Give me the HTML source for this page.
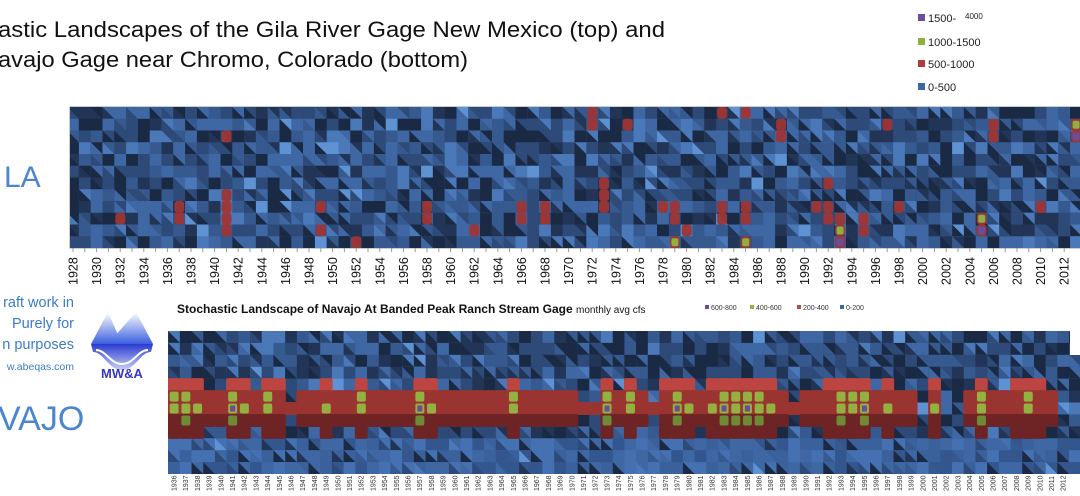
<!DOCTYPE html>
<html><head><meta charset="utf-8"><style>
body{margin:0;background:#fff;width:1080px;height:491px;overflow:hidden;font-family:"Liberation Sans",sans-serif}
</style></head><body>
<svg id="root" width="1080" height="491" viewBox="0 0 1080 491" xmlns="http://www.w3.org/2000/svg">
<defs>
<linearGradient id="mtn" x1="0" y1="0" x2="0" y2="1"><stop offset="0" stop-color="#ffffff"/><stop offset="1" stop-color="#3a5fe0"/></linearGradient>
<linearGradient id="wav" x1="0" y1="0" x2="0" y2="1"><stop offset="0" stop-color="#2a3ad0"/><stop offset="1" stop-color="#c8d0f8"/></linearGradient>
<clipPath id="clipTop"><rect x="70" y="107" width="1010" height="141"/></clipPath>
<clipPath id="clipBot"><rect x="168" y="331" width="912" height="143"/></clipPath>
</defs>
<text x="-2" y="37" font-size="22" textLength="667" lengthAdjust="spacingAndGlyphs" fill="#111">astic Landscapes of the Gila River Gage New Mexico (top) and</text>
<text x="-2" y="67" font-size="22" textLength="470" lengthAdjust="spacingAndGlyphs" fill="#111">avajo Gage near Chromo, Colorado (bottom)</text>

<g font-size="11" fill="#222">
<rect x="918" y="14" width="7" height="7" fill="#6b4e9a"/><text x="928" y="22">1500-</text><text x="965" y="19" font-size="8">4000</text>
<rect x="918" y="38" width="7" height="7" fill="#8fb040"/><text x="928" y="46">1000-1500</text>
<rect x="918" y="60" width="7" height="7" fill="#b33a3a"/><text x="928" y="68">500-1000</text>
<rect x="918" y="83" width="7" height="7" fill="#3d68a8"/><text x="928" y="91">0-500</text>
</g>

<text x="4" y="187" font-size="30" fill="#4a86d0">LA</text>
<g fill="#3a7cc9" text-anchor="end">
<text x="74" y="307" font-size="14.5">raft work in</text>
<text x="74" y="328" font-size="14.5">Purely for</text>
<text x="74" y="349" font-size="14.5">n purposes</text>
<text x="74" y="370" font-size="10.5">w.abeqas.com</text>
</g>
<text x="-2" y="430" font-size="34" fill="#4a86d0">VAJO</text>

<g>
<polygon points="91,344 108,312 122,344" fill="url(#mtn)"/>
<polygon points="108,344 136,312 153,344" fill="url(#mtn)"/>
<path d="M91,344 L153,344 L151,352 C140,352 136,370 122,370 C108,370 104,352 93,352 Z" fill="url(#wav)"/>
<path d="M96,350 C106,350 110,364 122,364 C134,364 138,350 148,350" stroke="#fff" stroke-width="2" fill="none"/>
<text x="122" y="378" font-size="13" font-weight="bold" fill="#3535c8" text-anchor="middle">MW&amp;A</text>
</g>

<rect x="70" y="107" width="1010" height="141" fill="#2d4a75" stroke="#999"/>
<g id="topCells" clip-path="url(#clipTop)"></g>
<g id="topAxis"></g>

<text x="177" y="313" font-size="12" font-weight="bold" fill="#111">Stochastic Landscape of Navajo At Banded Peak Ranch Stream Gage <tspan font-weight="normal" font-size="10">monthly avg cfs</tspan></text>
<g id="botLegend" font-size="7" fill="#333"></g>
<rect x="168" y="331" width="912" height="143" fill="#3d68a8"/>
<g id="botCells" clip-path="url(#clipBot)"></g>
<rect x="1070" y="331" width="10" height="24" fill="#fff"/>
<g id="botAxis"></g>
</svg>
<script>
// ---- Gila (top) data: high-flow events (year, month row 0=top, cfs) ----
const topFirstYear = 1928;
const topLastYear = 2013;
const topEventYear = [1932,1937,1937,1941,1941,1941,1941,1941,1949,1949,1952,1958,1958,1962,1966,1966,1968,1968,1972,1972,1973,1973,1973,1975,1978,1979,1979,1980,1979,1983,1983,1983,1985,1985,1985,1985,1988,1988,1992,1991,1992,1992,1993,1993,1993,1995,1995,1997,1998,2005,2005,2006,2006,2010,2013,2013];
const topEventMonth = [9,8,9,2,7,8,9,10,8,10,11,8,9,10,8,9,8,9,0,1,6,7,8,1,8,8,9,10,11,0,8,9,0,8,9,11,1,2,6,8,8,9,9,10,11,9,10,1,8,9,10,1,2,8,1,2];
const topEventCfs = [600,650,700,600,600,800,800,600,700,650,550,750,700,550,700,700,700,750,700,750,650,750,700,650,800,850,900,700,1200,650,700,650,600,750,650,1200,750,800,700,750,850,800,900,1300,1600,650,600,650,650,1300,1600,700,750,600,1200,1600];
const topTickLabels = [];
for (let y = 1928; y <= 2012; y += 2) topTickLabels.push(String(y));

// ---- Navajo (bottom) data: annual spring peak monthly avg cfs ----
const botYears = [];
for (let y = 1936; y <= 2012; y++) botYears.push(y);
const botPeakCfs = [480,500,450,350,250,650,420,300,480,380,220,300,350,440,320,250,480,330,250,320,300,650,420,280,350,320,350,260,300,480,350,330,320,330,300,200,200,620,300,480,330,200,380,700,420,250,400,620,500,650,500,420,300,200,300,330,380,520,480,620,350,450,350,340,100,410,150,150,320,500,330,350,380,480,380,320,150];
const seasonShape = [0.1,0.12,0.15,0.2,0.55,0.85,1.0,0.8,0.55,0.2,0.12,0.1];
const botLegendLabels = ['600-800','400-600','200-400','0-200'];

const NS='http://www.w3.org/2000/svg';
function mk(tag, attrs, parent){const e=document.createElementNS(NS,tag);for(const k in attrs)e.setAttribute(k,attrs[k]);parent.appendChild(e);return e;}
const blues=['#1b2a44','#223556','#2d4a78','#36598f','#3f67a3','#4b78b8','#5f92d2'];
function hash(a,b,s){let h=(a*374761393+b*668265263+s*1442695041)|0;h=(h^(h>>>13))*1274126177|0;h=h^(h>>>16);return (h>>>0);}
function blueShade(c,r,s,bias){const h=hash(c,r,s)%100;let i;
 if(h<16)i=0;else if(h<28)i=1;else if(h<48)i=2;else if(h<70)i=3;else if(h<87)i=4;else if(h<97)i=5;else i=6;
 i=Math.max(0,Math.min(6,i+bias));return blues[i];}

const tx = y => 73 + (y - topFirstYear) * 11.8;
const ty = r => 107 + r * 11.75;
const topG=document.getElementById('topCells');
const topMap={};
topEventYear.forEach((y,i)=>{const k=y+'_'+topEventMonth[i];topMap[k]=Math.max(topMap[k]||0,topEventCfs[i]);});
function topColor(v){if(v>=1500)return '#6b4e9a';if(v>=1000)return '#8fb040';return '#a9383a';}
for(let y=topFirstYear;y<=topLastYear;y++){
 for(let r=0;r<12;r++){
  const x0=tx(y)-5.9,y0=ty(r),w=11.8,h=11.75;
  const c=y-topFirstYear;
  const cell=mk('rect',{x:x0,y:y0,width:w+0.3,height:h+0.3,fill:blueShade(c,r,1,0)},topG);
  
  
  const t=hash(c,r,7)%6;
  if(t<3){
   const tri=mk('polygon',{points:`${x0},${y0} ${x0},${y0+h} ${x0+w},${y0+h}`,fill:blueShade(c,r,3,t===0?-3:0)},topG);
   
   
  }
 }
}
for(const k in topMap){
 const [y,r]=k.split('_').map(Number);const v=topMap[k];
 const x0=tx(y)-5.9,y0=ty(r);
 const b=mk('rect',{x:x0+1,y:y0,width:10,height:11.9,rx:3,fill:'#9e3535',opacity:0.95},topG);
 
 
 if(v>=1000){
  const g=mk('rect',{x:x0+2.5,y:y0+2,width:7,height:8,rx:2,fill:topColor(v)},topG);
  
  
  if(v>=1500){const p=mk('rect',{x:x0+4.5,y:y0+4,width:3,height:4,fill:'#6b4e9a'},topG);
   
   }
 }
}
const topAx=document.getElementById('topAxis');
for(let y=topFirstYear;y<=2012;y++){
 const tk=mk('line',{x1:tx(y),x2:tx(y),y1:248,y2:252,stroke:'#999'},topAx);
 
 
}
topTickLabels.forEach(l=>{const y=+l;const x=tx(y)+4.5;
 const t=mk('text',{x:x,y:285,transform:`rotate(-90 ${x} 285)`,'font-size':12.5,fill:'#111'},topAx);t.textContent=l;
 
 });

const bx = y => 174 + (y - 1936) * 11.7;
const by = r => 331 + r * 11.92;
const botG=document.getElementById('botCells');
const botYearsAll=[...botYears,2013,2014];
botYearsAll.forEach((y,ci)=>{
 for(let r=0;r<12;r++){
  const x0=bx(y)-5.85,y0=by(r),w=11.7,h=11.92;
  const bias=(r===7||r===8)?-1:0;
  let fill=blueShade(ci,r,11,bias);
  if(r>=9){fill=['#33568e','#3a619c','#3f67a3','#4571b2'][hash(ci,r,5)%4];}
  const cell=mk('rect',{x:x0,y:y0,width:w+0.3,height:h+0.3,fill:fill},botG);
  
  
  const t=hash(ci,r,17)%6;
  if(t<3){const tri=mk('polygon',{points:`${x0},${y0} ${x0},${y0+h} ${x0+w},${y0+h}`,fill:blueShade(ci,r,19,t===0?-3:(r>=9?0:-1))},botG);
   
   }
 }
});
botYears.forEach((y,ci)=>{
 const peak=botPeakCfs[ci];
 for(let r=0;r<12;r++){
  const v=peak*seasonShape[r];
  if(v<200)continue;
  const x0=bx(y)-5.85,y0=by(r);
  const red=mk('rect',{x:x0-0.5,y:y0-0.5,width:12.8,height:13,rx:2,fill:r>=7?'#6e2424':(r<=4?'#bd4541':'#9a3431')},botG);
  
  
  if(v>=400){const g=mk('rect',{x:x0+1.5,y:y0+1,width:9,height:10,rx:2,fill:r>=7?'#6f8a34':'#93b040'},botG);
   
   }
  if(v>=600){const p=mk('rect',{x:x0+3.5,y:y0+3,width:5,height:6,fill:'#6a4c98'},botG);
   
   }
 }
});
const botAx=document.getElementById('botAxis');
botYears.forEach(y=>{const x=bx(y)+2.5;
 const t=mk('text',{x:x,y:491,transform:`rotate(-90 ${x} 491)`,'font-size':7,fill:'#333'},botAx);t.textContent=String(y);
 
 });
const legCols=['#6a4c98','#93b040','#c5443f','#3d68a8'];
const legX=[705,750,797,840];
const lg=document.getElementById('botLegend');
botLegendLabels.forEach((l,i)=>{
 const s=mk('rect',{x:legX[i],y:305,width:4,height:4,fill:legCols[i]},lg);
 
 
 const t=mk('text',{x:legX[i]+6,y:310},lg);t.textContent=l;
 
 
});
</script>
</body></html>
